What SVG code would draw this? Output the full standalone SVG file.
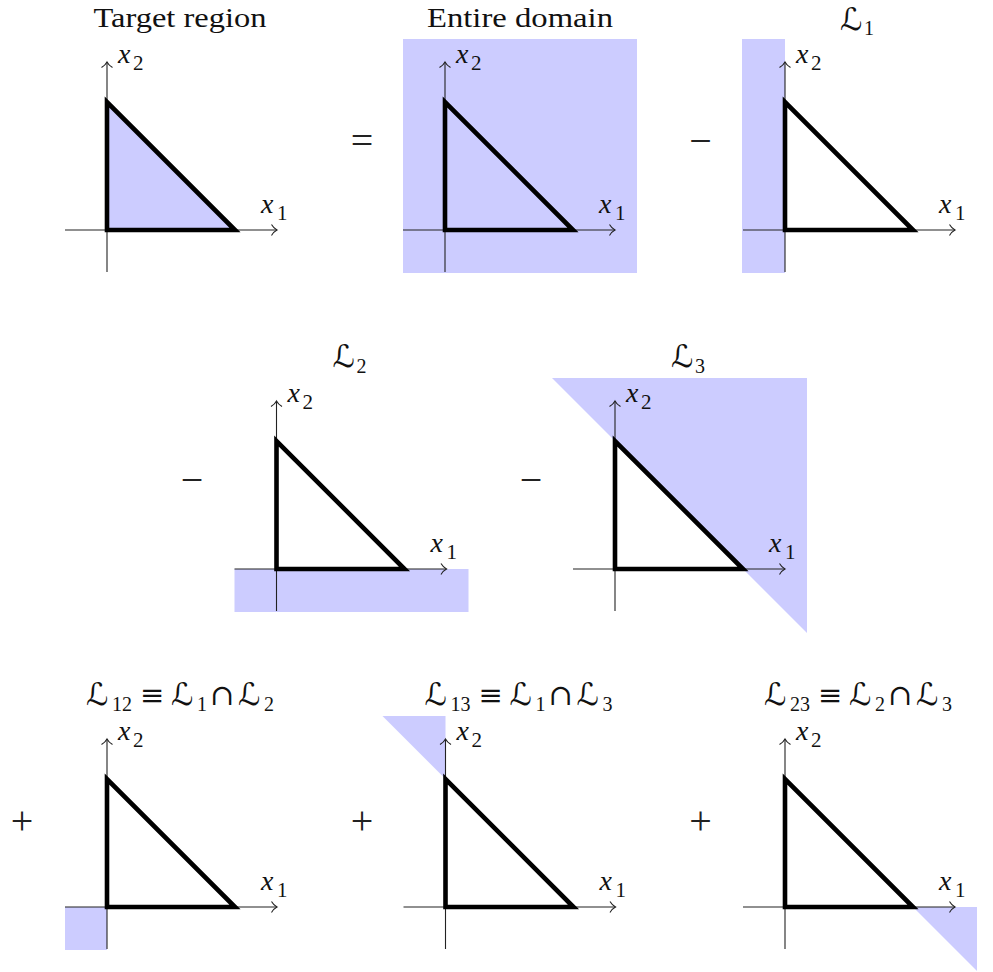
<svg xmlns="http://www.w3.org/2000/svg" xmlns:xlink="http://www.w3.org/1999/xlink" width="993" height="972" viewBox="0 0 993 972">
<style>
.fill{fill:#ccccff;stroke:none}
.axis{stroke:#222;stroke-width:1.1;fill:none}
.tri{stroke:#000;stroke-width:4.6;fill:none;stroke-linejoin:miter;stroke-miterlimit:10}
.var{font-family:"Liberation Serif",serif;font-style:italic;font-size:28px;fill:#111}
.lsub{font-family:"Liberation Serif",serif;font-size:21px;fill:#111}
.title{font-family:"Liberation Serif",serif;font-size:28px;fill:#111;text-anchor:middle}
.cal{font-family:"DejaVu Serif","DejaVu Sans",serif;font-size:31px;fill:#111}
.sym{font-family:"DejaVu Serif","DejaVu Sans",serif;font-size:29px}
.sub{font-family:"Liberation Serif",serif;font-size:20px;fill:#111}
.op{font-family:"Liberation Serif",serif;font-size:40px;fill:#222;text-anchor:middle}
</style>
<defs>
<marker id="arr" markerUnits="userSpaceOnUse" markerWidth="12" markerHeight="14" refX="10" refY="7" orient="auto" viewBox="0 0 12 14">
<path d="M4.5 1.5 C6 4 8 6 10 7 C8 8 6 10 4.5 12.5" fill="none" stroke="#222" stroke-width="1.1"/>
</marker>
<g id="axes">
<line class="axis" x1="-42" y1="0" x2="170" y2="0" marker-end="url(#arr)"/>
<line class="axis" x1="0" y1="42" x2="0" y2="-168" marker-end="url(#arr)"/>
<text class="var" x="154" y="-17">x</text><text class="lsub" x="170" y="-10">1</text>
<text class="var" x="11" y="-167">x</text><text class="lsub" x="26" y="-160">2</text>
</g>
<path id="tri" class="tri" d="M0 0 L0 -128 L128 0 Z"/>
</defs>

<g id="target" transform="translate(107,230)">
<path class="fill" d="M0 0 L0 -128 L128 0 Z"/>
<use xlink:href="#axes"/>
<use xlink:href="#tri"/>
<text class="title" x="73" y="-203" textLength="173" lengthAdjust="spacingAndGlyphs">Target region</text>
</g>

<g id="entire" transform="translate(445,230)">
<rect class="fill" x="-42" y="-191" width="234" height="234"/>
<use xlink:href="#axes"/>
<use xlink:href="#tri"/>
<text class="title" x="75" y="-203" textLength="186" lengthAdjust="spacingAndGlyphs">Entire domain</text>
</g>

<g id="L1" transform="translate(785,230)">
<rect class="fill" x="-43" y="-191" width="43" height="234"/>
<use xlink:href="#axes"/>
<use xlink:href="#tri"/>
<text class="cal" y="-200"><tspan x="55">ℒ</tspan><tspan class="sub" x="79" y="-195">1</tspan></text>
</g>

<g id="L2" transform="translate(276.5,569)">
<rect class="fill" x="-42" y="0" width="234" height="43"/>
<use xlink:href="#axes"/>
<use xlink:href="#tri"/>
<text class="cal" y="-202"><tspan x="56">ℒ</tspan><tspan class="sub" x="80" y="-196">2</tspan></text>
</g>

<g id="L3" transform="translate(615,569)">
<path class="fill" d="M-63 -191 L192 -191 L192 64 Z"/>
<use xlink:href="#axes"/>
<use xlink:href="#tri"/>
<text class="cal" y="-202"><tspan x="56">ℒ</tspan><tspan class="sub" x="80" y="-196">3</tspan></text>
</g>

<g id="L12" transform="translate(107,907)">
<rect class="fill" x="-42" y="0" width="42" height="43"/>
<use xlink:href="#axes"/>
<use xlink:href="#tri"/>
<text class="cal" y="-202"><tspan x="-21">ℒ</tspan><tspan class="sub" x="5" y="-196">12</tspan><tspan class="sym" x="33" y="-202">≡</tspan><tspan x="64">ℒ</tspan><tspan class="sub" x="90" y="-196">1</tspan><tspan class="sym" x="103" y="-202">∩</tspan><tspan x="131">ℒ</tspan><tspan class="sub" x="157" y="-196">2</tspan></text>
</g>

<g id="L13" transform="translate(445.5,907)">
<path class="fill" d="M-63 -191 L0 -191 L0 -128 Z"/>
<use xlink:href="#axes"/>
<use xlink:href="#tri"/>
<text class="cal" y="-202"><tspan x="-21">ℒ</tspan><tspan class="sub" x="5" y="-196">13</tspan><tspan class="sym" x="33" y="-202">≡</tspan><tspan x="64">ℒ</tspan><tspan class="sub" x="90" y="-196">1</tspan><tspan class="sym" x="103" y="-202">∩</tspan><tspan x="131">ℒ</tspan><tspan class="sub" x="157" y="-196">3</tspan></text>
</g>

<g id="L23" transform="translate(785,907)">
<path class="fill" d="M128 0 L192 0 L192 64 Z"/>
<use xlink:href="#axes"/>
<use xlink:href="#tri"/>
<text class="cal" y="-202"><tspan x="-21">ℒ</tspan><tspan class="sub" x="5" y="-196">23</tspan><tspan class="sym" x="33" y="-202">≡</tspan><tspan x="64">ℒ</tspan><tspan class="sub" x="90" y="-196">2</tspan><tspan class="sym" x="103" y="-202">∩</tspan><tspan x="131">ℒ</tspan><tspan class="sub" x="157" y="-196">3</tspan></text>
</g>

<g id="operators">
<text class="op" x="362" y="154">=</text>
<text class="op" x="700.5" y="154">−</text>
<text class="op" x="192" y="493">−</text>
<text class="op" x="531" y="493">−</text>
<text class="op" x="22" y="834">+</text>
<text class="op" x="362" y="834">+</text>
<text class="op" x="700.5" y="834">+</text>
</g>
</svg>
